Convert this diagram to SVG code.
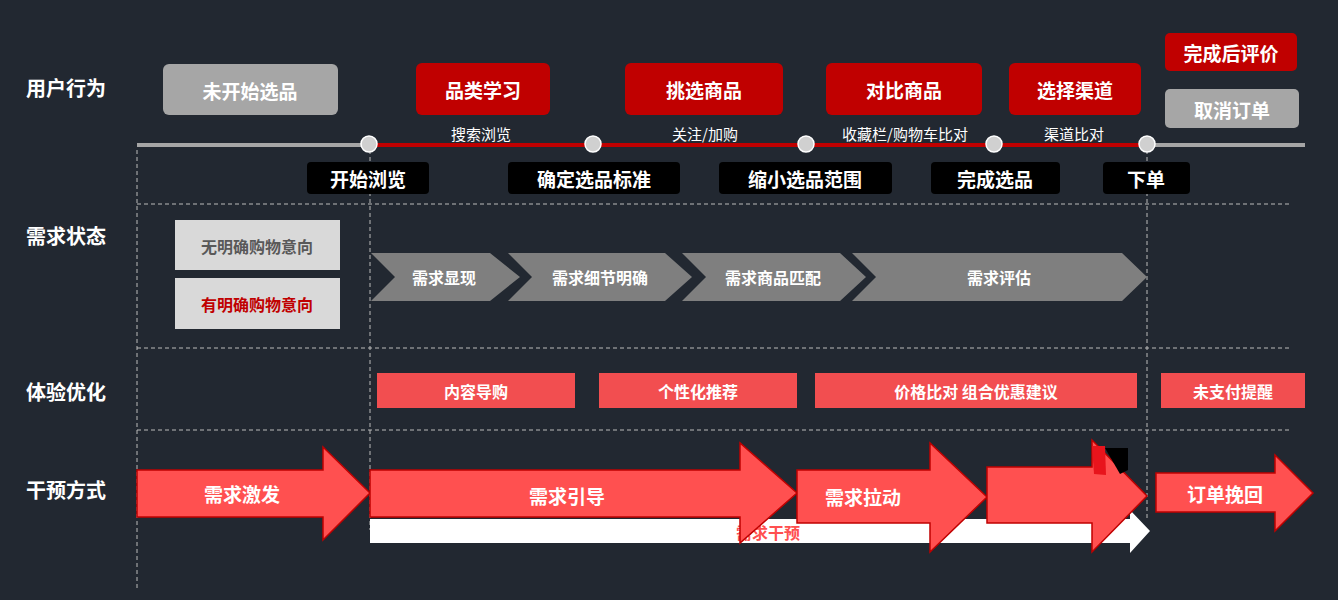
<svg xmlns="http://www.w3.org/2000/svg" width="1338" height="600" viewBox="0 0 1338 600">
<style>
text{font-family:"Noto Sans CJK SC","Noto Sans",sans-serif;font-weight:bold;text-anchor:middle;dominant-baseline:central}
.rl{font-size:20px;fill:#fff;text-anchor:start}
.w{fill:#fff;font-size:19px}
.s{fill:#fff;font-size:15px;font-weight:normal}
.sm{fill:#fff;font-size:16px}
.red{fill:#c00000}
.blk{fill:#000}
.ex{fill:#f24e50}
.arr{fill:#ff5050;stroke:#c00000;stroke-width:1.5}
.chev{fill:#7f7f7f}
.dash{stroke:#bbb;stroke-width:1;stroke-dasharray:4 3;fill:none}
.dot{fill:#d0d0d0;stroke:#fff;stroke-width:1.5}
</style>
<rect width="1338" height="600" fill="#222831"/>
<g id="grid">
<line class="dash" x1="137" y1="204" x2="1290" y2="204"/>
<line class="dash" x1="137" y1="348" x2="1290" y2="348"/>
<line class="dash" x1="137" y1="430" x2="1290" y2="430"/>
<line class="dash" x1="137" y1="150" x2="137" y2="590"/>
<line class="dash" x1="370" y1="150" x2="370" y2="530"/>
<line class="dash" x1="1147" y1="150" x2="1147" y2="520"/>
</g>
<text class="rl" x="26" y="87">用户行为</text>
<text class="rl" x="26" y="235">需求状态</text>
<text class="rl" x="26" y="391">体验优化</text>
<text class="rl" x="26" y="489">干预方式</text>
<g id="connectors">
<line x1="137" y1="145" x2="369" y2="145" stroke="#a6a6a6" stroke-width="4"/>
<line x1="369" y1="145" x2="1147" y2="145" stroke="#c00000" stroke-width="4"/>
<line x1="1147" y1="145" x2="1305" y2="145" stroke="#a6a6a6" stroke-width="4"/>
</g>
<g id="dots">
<circle class="dot" cx="369" cy="144" r="8"/><circle class="dot" cx="593" cy="144" r="8"/><circle class="dot" cx="806" cy="144" r="8"/><circle class="dot" cx="994" cy="144" r="8"/><circle class="dot" cx="1147" cy="144" r="8"/>
</g>
<text class="s" x="481" y="133">搜索浏览</text>
<text class="s" x="705" y="133">关注/加购</text>
<text class="s" x="905" y="133">收藏栏/购物车比对</text>
<text class="s" x="1074" y="133">渠道比对</text>
<g id="n-weikaishi"><rect x="163" y="64" width="175" height="51" rx="6" fill="#a6a6a6"/><text class="w" x="250" y="90">未开始选品</text></g>
<g id="n-pinlei"><rect x="416" y="63" width="134" height="52" rx="6" class="red"/><text class="w" x="483" y="89">品类学习</text></g>
<g id="n-tiaoxuan"><rect x="625" y="63" width="158" height="52" rx="6" class="red"/><text class="w" x="704" y="89">挑选商品</text></g>
<g id="n-duibi"><rect x="826" y="63" width="156" height="52" rx="6" class="red"/><text class="w" x="904" y="89">对比商品</text></g>
<g id="n-qudao"><rect x="1009" y="63" width="132" height="52" rx="6" class="red"/><text class="w" x="1075" y="89">选择渠道</text></g>
<g id="n-pingjia"><rect x="1165" y="33" width="132" height="38" rx="5" class="red"/><text class="w" x="1231" y="52">完成后评价</text></g>
<g id="n-quxiao"><rect x="1165" y="89" width="134" height="39" rx="5" fill="#a6a6a6"/><text class="w" x="1232" y="109">取消订单</text></g>
<g id="n-kaishi"><rect x="307" y="162" width="122" height="32" rx="4" class="blk"/><text class="w" x="368" y="178">开始浏览</text></g>
<g id="n-queding"><rect x="508" y="162" width="172" height="32" rx="4" class="blk"/><text class="w" x="594" y="178">确定选品标准</text></g>
<g id="n-suoxiao"><rect x="719" y="162" width="173" height="32" rx="4" class="blk"/><text class="w" x="805" y="178">缩小选品范围</text></g>
<g id="n-wancheng"><rect x="931" y="162" width="129" height="32" rx="4" class="blk"/><text class="w" x="995" y="178">完成选品</text></g>
<g id="n-xiadan"><rect x="1103" y="162" width="87" height="32" rx="4" class="blk"/><text class="w" x="1146" y="178">下单</text></g>
<g id="n-wu"><rect x="175" y="220" width="165" height="50" fill="#d9d9d9"/><text x="257" y="246" font-size="16" fill="#595959">无明确购物意向</text></g>
<g id="n-you"><rect x="175" y="278" width="165" height="51" fill="#d9d9d9"/><text x="257" y="304" font-size="16" fill="#c00000">有明确购物意向</text></g>
<g id="n-c1"><polygon class="chev" points="371,253 490,253 520,277 490,301 371,301 395,277"/><text class="sm" x="444" y="277">需求显现</text></g>
<g id="n-c2"><polygon class="chev" points="508,253 665,253 692,277 665,301 508,301 532,277"/><text class="sm" x="600" y="277">需求细节明确</text></g>
<g id="n-c3"><polygon class="chev" points="682,253 840,253 866,277 840,301 682,301 706,277"/><text class="sm" x="773" y="277">需求商品匹配</text></g>
<g id="n-c4"><polygon class="chev" points="852,253 1122,253 1147,277 1122,301 852,301 876,277"/><text class="sm" x="999" y="277">需求评估</text></g>
<g id="n-e1"><rect class="ex" x="377" y="373" width="198" height="35"/><text class="sm" x="476" y="391">内容导购</text></g>
<g id="n-e2"><rect class="ex" x="599" y="373" width="198" height="35"/><text class="sm" x="698" y="391">个性化推荐</text></g>
<g id="n-e3"><rect class="ex" x="815" y="373" width="322" height="35"/><text class="sm" x="976" y="391">价格比对  组合优惠建议</text></g>
<g id="n-e4"><rect class="ex" x="1161" y="373" width="144" height="35"/><text class="sm" x="1233" y="391">未支付提醒</text></g>
<g id="n-ganyu"><polygon points="370,519 1130,519 1130,510 1150,531 1130,553 1130,543 370,543" fill="#fff"/><text x="768" y="532" font-size="16" fill="#ff5050">需求干预</text></g>
<g id="n-jifa"><polygon class="arr" points="137,470 323,470 323,447 370,493 323,540 323,517 137,517"/><text class="w" x="242" y="493">需求激发</text></g>
<g id="n-yindao"><polygon class="arr" points="370,470 740,470 740,443 797,493 740,543 740,517 370,517"/><text class="w" x="567" y="495">需求引导</text></g>
<g id="n-ladong"><polygon class="arr" points="797,470 930,470 930,443 987,497 930,552 930,523 797,523"/><text class="w" x="863" y="496">需求拉动</text></g>
<g id="n-a4"><polygon class="arr" points="987,467 1092,467 1092,440 1147,496 1092,552 1092,523 987,523"/><polygon points="1092,446 1105,446 1106,475 1094,474" fill="#e8141c"/><polygon points="1105,448 1128,448 1128,470 1120,474" fill="#000"/></g>
<g id="n-wanhui"><polygon class="arr" points="1156,473 1275,473 1275,455 1313,493 1275,531 1275,512 1156,512"/><text class="w" x="1225" y="493">订单挽回</text></g>
</svg>
